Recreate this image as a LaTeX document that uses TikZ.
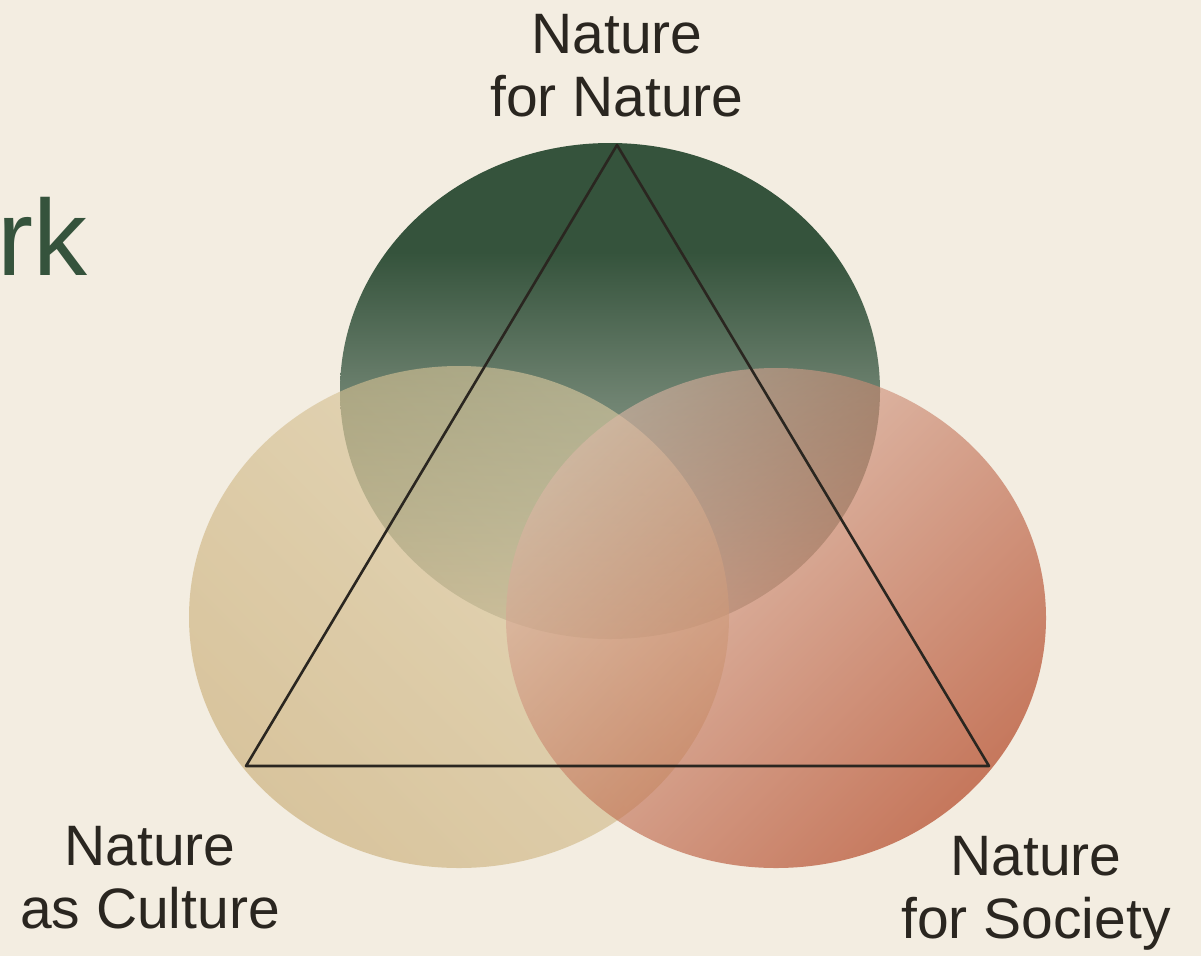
\documentclass[tikz,border=0pt]{standalone}
\usepackage{fontspec}
\setmainfont{Liberation Sans}
\usetikzlibrary{positioning}

\definecolor{paper}{HTML}{F3EDE1}
\definecolor{ink}{HTML}{2A2620}
\definecolor{forest}{HTML}{35533C}
\definecolor{forestmid}{HTML}{6F8371}
\definecolor{forestpale}{HTML}{93A292}
\definecolor{forestlow}{HTML}{C2C1B1}
\definecolor{sandlow}{HTML}{C9AC74}
\definecolor{sandhigh}{HTML}{DCCBA2}
\definecolor{clayhigh}{HTML}{DDB8A7}
\definecolor{claylow}{HTML}{A82A05}

\pgfdeclareverticalshading{forestfall}{100bp}{color(0bp)=(forestlow); color(25bp)=(forestlow);
  color(37bp)=(forestpale); color(49bp)=(forestmid); color(64bp)=(forest); color(100bp)=(forest)}

\begin{document}
\begin{tikzpicture}[x=1pt,y=-1pt,line join=round]
  \tikzstyle{label}=[text=ink,font=\fontsize{57}{63}\selectfont,align=center]

  \useasboundingbox[fill=paper] (0,0) rectangle (1201,956);

  % the three fields
  \shade[shading=forestfall] (610,391) ellipse [x radius=270pt, y radius=248pt];
  \shade[top color=sandhigh, bottom color=sandlow, shading angle=-45, fill opacity=0.62]
    (459,617) ellipse [x radius=270pt, y radius=251pt];
  \shade[top color=clayhigh, bottom color=claylow, shading angle=45, fill opacity=0.6]
    (776,618) ellipse [x radius=270pt, y radius=250pt];

  % triangle
  \coordinate (N) at (617,145);
  \coordinate (C) at (246,766);
  \coordinate (S) at (989,766);
  \draw[ink, line width=2.6pt] (N) -- (S) -- (C) -- cycle;

  % labels
  \node[label] (nature)  [above=24pt of N]        {Nature\\for Nature};
  \node[label] (culture) at (150,878)              {Nature\\as Culture};
  \node[label] (society) at (1036,893)             {Nature\\for Society};
  \node[text=forest, font=\fontsize{108}{108}\selectfont, anchor=base east] (title) at (91,275) {rk};
\end{tikzpicture}
\end{document}
